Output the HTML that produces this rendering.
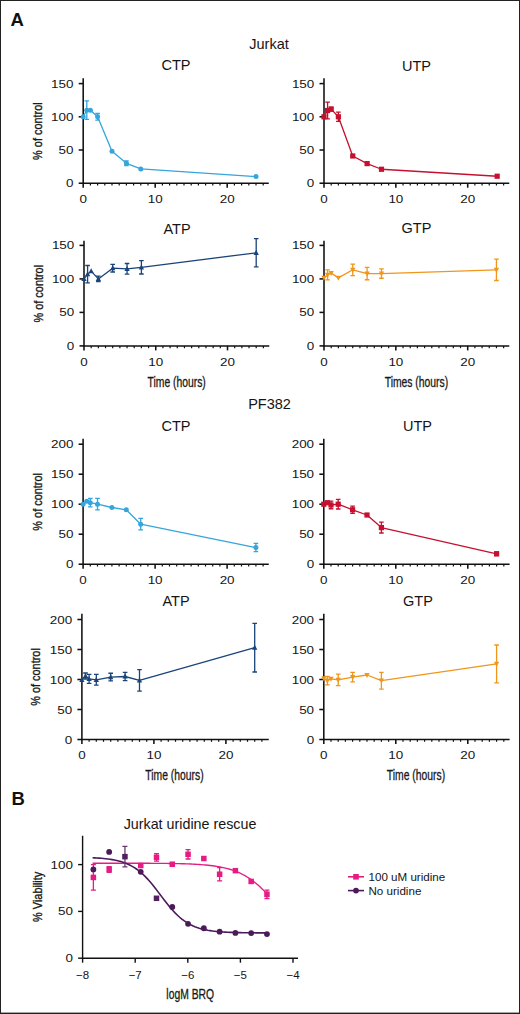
<!DOCTYPE html>
<html><head><meta charset="utf-8"><style>
html,body{margin:0;padding:0;background:#fff;}
body{width:520px;height:1014px;overflow:hidden;font-family:"Liberation Sans", sans-serif;}
svg{display:block;}
</style></head><body>
<svg width="520" height="1014" viewBox="0 0 520 1014" font-family='"Liberation Sans", sans-serif'>
<rect x="0" y="0" width="520" height="1014" fill="#fff"/>
<text x="10.50" y="26.00" font-size="18.5" text-anchor="start" font-weight="bold" fill="#111" >A</text>
<text x="269.00" y="48.80" font-size="14.5" text-anchor="middle" font-weight="normal" fill="#151515" >Jurkat</text>
<text x="269.50" y="409.00" font-size="14.5" text-anchor="middle" font-weight="normal" fill="#151515" >PF382</text>
<path d="M83.20,79.00 V183.20 H268.00" fill="none" stroke="#111" stroke-width="1.55" stroke-linecap="square"/>
<line x1="78.70" y1="183.20" x2="83.20" y2="183.20" stroke="#111" stroke-width="1.55"/>
<text transform="translate(73.50,187.20) scale(1.17,1)" x="0" y="0" font-size="11.5" text-anchor="end" fill="#151515" >0</text>
<line x1="78.70" y1="150.00" x2="83.20" y2="150.00" stroke="#111" stroke-width="1.55"/>
<text transform="translate(73.50,154.00) scale(1.17,1)" x="0" y="0" font-size="11.5" text-anchor="end" fill="#151515" >50</text>
<line x1="78.70" y1="116.80" x2="83.20" y2="116.80" stroke="#111" stroke-width="1.55"/>
<text transform="translate(73.50,120.80) scale(1.17,1)" x="0" y="0" font-size="11.5" text-anchor="end" fill="#151515" >100</text>
<line x1="78.70" y1="83.60" x2="83.20" y2="83.60" stroke="#111" stroke-width="1.55"/>
<text transform="translate(73.50,87.60) scale(1.17,1)" x="0" y="0" font-size="11.5" text-anchor="end" fill="#151515" >150</text>
<line x1="83.20" y1="183.20" x2="83.20" y2="187.70" stroke="#111" stroke-width="1.55"/>
<text transform="translate(83.20,203.00) scale(1.17,1)" x="0" y="0" font-size="11.5" text-anchor="middle" fill="#151515" >0</text>
<line x1="90.40" y1="183.20" x2="90.40" y2="185.50" stroke="#111" stroke-width="1.2"/>
<line x1="97.60" y1="183.20" x2="97.60" y2="185.50" stroke="#111" stroke-width="1.2"/>
<line x1="104.80" y1="183.20" x2="104.80" y2="185.50" stroke="#111" stroke-width="1.2"/>
<line x1="112.00" y1="183.20" x2="112.00" y2="185.50" stroke="#111" stroke-width="1.2"/>
<line x1="119.20" y1="183.20" x2="119.20" y2="185.50" stroke="#111" stroke-width="1.2"/>
<line x1="126.40" y1="183.20" x2="126.40" y2="185.50" stroke="#111" stroke-width="1.2"/>
<line x1="133.60" y1="183.20" x2="133.60" y2="185.50" stroke="#111" stroke-width="1.2"/>
<line x1="140.80" y1="183.20" x2="140.80" y2="185.50" stroke="#111" stroke-width="1.2"/>
<line x1="148.00" y1="183.20" x2="148.00" y2="185.50" stroke="#111" stroke-width="1.2"/>
<line x1="155.20" y1="183.20" x2="155.20" y2="187.70" stroke="#111" stroke-width="1.55"/>
<text transform="translate(155.20,203.00) scale(1.17,1)" x="0" y="0" font-size="11.5" text-anchor="middle" fill="#151515" >10</text>
<line x1="162.40" y1="183.20" x2="162.40" y2="185.50" stroke="#111" stroke-width="1.2"/>
<line x1="169.60" y1="183.20" x2="169.60" y2="185.50" stroke="#111" stroke-width="1.2"/>
<line x1="176.80" y1="183.20" x2="176.80" y2="185.50" stroke="#111" stroke-width="1.2"/>
<line x1="184.00" y1="183.20" x2="184.00" y2="185.50" stroke="#111" stroke-width="1.2"/>
<line x1="191.20" y1="183.20" x2="191.20" y2="185.50" stroke="#111" stroke-width="1.2"/>
<line x1="198.40" y1="183.20" x2="198.40" y2="185.50" stroke="#111" stroke-width="1.2"/>
<line x1="205.60" y1="183.20" x2="205.60" y2="185.50" stroke="#111" stroke-width="1.2"/>
<line x1="212.80" y1="183.20" x2="212.80" y2="185.50" stroke="#111" stroke-width="1.2"/>
<line x1="220.00" y1="183.20" x2="220.00" y2="185.50" stroke="#111" stroke-width="1.2"/>
<line x1="227.20" y1="183.20" x2="227.20" y2="187.70" stroke="#111" stroke-width="1.55"/>
<text transform="translate(227.20,203.00) scale(1.17,1)" x="0" y="0" font-size="11.5" text-anchor="middle" fill="#151515" >20</text>
<line x1="234.40" y1="183.20" x2="234.40" y2="185.50" stroke="#111" stroke-width="1.2"/>
<line x1="241.60" y1="183.20" x2="241.60" y2="185.50" stroke="#111" stroke-width="1.2"/>
<line x1="248.80" y1="183.20" x2="248.80" y2="185.50" stroke="#111" stroke-width="1.2"/>
<line x1="256.00" y1="183.20" x2="256.00" y2="185.50" stroke="#111" stroke-width="1.2"/>
<line x1="263.20" y1="183.20" x2="263.20" y2="185.50" stroke="#111" stroke-width="1.2"/>
<path d="M83.20,116.80 L86.80,110.16 L90.40,110.16 L97.60,116.80 L112.00,151.33 L126.40,163.28 L140.80,168.92 L256.00,176.56" fill="none" stroke="#35a5db" stroke-width="1.3" stroke-linejoin="round"/>
<circle cx="83.20" cy="116.80" r="2.5" fill="#35a5db"/>
<path d="M84.50,100.86 H89.10 M86.80,100.86 V119.46 M84.50,119.46 H89.10" fill="none" stroke="#35a5db" stroke-width="1.3"/>
<circle cx="86.80" cy="110.16" r="2.5" fill="#35a5db"/>
<circle cx="90.40" cy="110.16" r="2.5" fill="#35a5db"/>
<path d="M95.30,113.48 H99.90 M97.60,113.48 V120.12 M95.30,120.12 H99.90" fill="none" stroke="#35a5db" stroke-width="1.3"/>
<circle cx="97.60" cy="116.80" r="2.5" fill="#35a5db"/>
<circle cx="112.00" cy="151.33" r="2.5" fill="#35a5db"/>
<path d="M124.10,160.96 H128.70 M126.40,160.96 V165.60 M124.10,165.60 H128.70" fill="none" stroke="#35a5db" stroke-width="1.3"/>
<circle cx="126.40" cy="163.28" r="2.5" fill="#35a5db"/>
<circle cx="140.80" cy="168.92" r="2.5" fill="#35a5db"/>
<circle cx="256.00" cy="176.56" r="2.5" fill="#35a5db"/>
<text x="176.00" y="69.80" font-size="14.5" text-anchor="middle" font-weight="normal" fill="#151515" >CTP</text>
<text transform="translate(41.70,131.10) rotate(-90) scale(0.84,1)" x="0" y="0" font-size="13" text-anchor="middle" fill="#151515" stroke="#222" stroke-width="0.35">% of control</text>
<path d="M324.00,79.00 V183.20 H508.50" fill="none" stroke="#111" stroke-width="1.55" stroke-linecap="square"/>
<line x1="319.50" y1="183.20" x2="324.00" y2="183.20" stroke="#111" stroke-width="1.55"/>
<text transform="translate(314.30,187.20) scale(1.17,1)" x="0" y="0" font-size="11.5" text-anchor="end" fill="#151515" >0</text>
<line x1="319.50" y1="150.00" x2="324.00" y2="150.00" stroke="#111" stroke-width="1.55"/>
<text transform="translate(314.30,154.00) scale(1.17,1)" x="0" y="0" font-size="11.5" text-anchor="end" fill="#151515" >50</text>
<line x1="319.50" y1="116.80" x2="324.00" y2="116.80" stroke="#111" stroke-width="1.55"/>
<text transform="translate(314.30,120.80) scale(1.17,1)" x="0" y="0" font-size="11.5" text-anchor="end" fill="#151515" >100</text>
<line x1="319.50" y1="83.60" x2="324.00" y2="83.60" stroke="#111" stroke-width="1.55"/>
<text transform="translate(314.30,87.60) scale(1.17,1)" x="0" y="0" font-size="11.5" text-anchor="end" fill="#151515" >150</text>
<line x1="324.00" y1="183.20" x2="324.00" y2="187.70" stroke="#111" stroke-width="1.55"/>
<text transform="translate(324.00,203.00) scale(1.17,1)" x="0" y="0" font-size="11.5" text-anchor="middle" fill="#151515" >0</text>
<line x1="331.19" y1="183.20" x2="331.19" y2="185.50" stroke="#111" stroke-width="1.2"/>
<line x1="338.37" y1="183.20" x2="338.37" y2="185.50" stroke="#111" stroke-width="1.2"/>
<line x1="345.56" y1="183.20" x2="345.56" y2="185.50" stroke="#111" stroke-width="1.2"/>
<line x1="352.74" y1="183.20" x2="352.74" y2="185.50" stroke="#111" stroke-width="1.2"/>
<line x1="359.93" y1="183.20" x2="359.93" y2="185.50" stroke="#111" stroke-width="1.2"/>
<line x1="367.11" y1="183.20" x2="367.11" y2="185.50" stroke="#111" stroke-width="1.2"/>
<line x1="374.30" y1="183.20" x2="374.30" y2="185.50" stroke="#111" stroke-width="1.2"/>
<line x1="381.48" y1="183.20" x2="381.48" y2="185.50" stroke="#111" stroke-width="1.2"/>
<line x1="388.66" y1="183.20" x2="388.66" y2="185.50" stroke="#111" stroke-width="1.2"/>
<line x1="395.85" y1="183.20" x2="395.85" y2="187.70" stroke="#111" stroke-width="1.55"/>
<text transform="translate(395.85,203.00) scale(1.17,1)" x="0" y="0" font-size="11.5" text-anchor="middle" fill="#151515" >10</text>
<line x1="403.03" y1="183.20" x2="403.03" y2="185.50" stroke="#111" stroke-width="1.2"/>
<line x1="410.22" y1="183.20" x2="410.22" y2="185.50" stroke="#111" stroke-width="1.2"/>
<line x1="417.40" y1="183.20" x2="417.40" y2="185.50" stroke="#111" stroke-width="1.2"/>
<line x1="424.59" y1="183.20" x2="424.59" y2="185.50" stroke="#111" stroke-width="1.2"/>
<line x1="431.77" y1="183.20" x2="431.77" y2="185.50" stroke="#111" stroke-width="1.2"/>
<line x1="438.96" y1="183.20" x2="438.96" y2="185.50" stroke="#111" stroke-width="1.2"/>
<line x1="446.14" y1="183.20" x2="446.14" y2="185.50" stroke="#111" stroke-width="1.2"/>
<line x1="453.33" y1="183.20" x2="453.33" y2="185.50" stroke="#111" stroke-width="1.2"/>
<line x1="460.51" y1="183.20" x2="460.51" y2="185.50" stroke="#111" stroke-width="1.2"/>
<line x1="467.70" y1="183.20" x2="467.70" y2="187.70" stroke="#111" stroke-width="1.55"/>
<text transform="translate(467.70,203.00) scale(1.17,1)" x="0" y="0" font-size="11.5" text-anchor="middle" fill="#151515" >20</text>
<line x1="474.88" y1="183.20" x2="474.88" y2="185.50" stroke="#111" stroke-width="1.2"/>
<line x1="482.07" y1="183.20" x2="482.07" y2="185.50" stroke="#111" stroke-width="1.2"/>
<line x1="489.25" y1="183.20" x2="489.25" y2="185.50" stroke="#111" stroke-width="1.2"/>
<line x1="496.44" y1="183.20" x2="496.44" y2="185.50" stroke="#111" stroke-width="1.2"/>
<line x1="503.62" y1="183.20" x2="503.62" y2="185.50" stroke="#111" stroke-width="1.2"/>
<path d="M324.00,116.80 L327.59,110.49 L331.19,109.16 L338.37,116.80 L352.74,155.98 L367.11,163.61 L381.48,169.26 L497.16,176.23" fill="none" stroke="#c6102f" stroke-width="1.3" stroke-linejoin="round"/>
<rect x="321.40" y="114.20" width="5.20" height="5.20" fill="#c6102f"/>
<path d="M325.29,102.19 H329.89 M327.59,102.19 V118.79 M325.29,118.79 H329.89" fill="none" stroke="#c6102f" stroke-width="1.3"/>
<rect x="324.99" y="107.89" width="5.20" height="5.20" fill="#c6102f"/>
<path d="M328.88,107.17 H333.49 M331.19,107.17 V111.16 M328.88,111.16 H333.49" fill="none" stroke="#c6102f" stroke-width="1.3"/>
<rect x="328.58" y="106.56" width="5.20" height="5.20" fill="#c6102f"/>
<path d="M336.07,112.15 H340.67 M338.37,112.15 V121.45 M336.07,121.45 H340.67" fill="none" stroke="#c6102f" stroke-width="1.3"/>
<rect x="335.77" y="114.20" width="5.20" height="5.20" fill="#c6102f"/>
<rect x="350.14" y="153.38" width="5.20" height="5.20" fill="#c6102f"/>
<rect x="364.51" y="161.01" width="5.20" height="5.20" fill="#c6102f"/>
<rect x="378.88" y="166.66" width="5.20" height="5.20" fill="#c6102f"/>
<rect x="494.56" y="173.63" width="5.20" height="5.20" fill="#c6102f"/>
<text x="416.50" y="70.50" font-size="14.5" text-anchor="middle" font-weight="normal" fill="#151515" >UTP</text>
<path d="M84.00,241.50 V345.90 H268.50" fill="none" stroke="#111" stroke-width="1.55" stroke-linecap="square"/>
<line x1="79.50" y1="345.90" x2="84.00" y2="345.90" stroke="#111" stroke-width="1.55"/>
<text transform="translate(74.30,349.90) scale(1.17,1)" x="0" y="0" font-size="11.5" text-anchor="end" fill="#151515" >0</text>
<line x1="79.50" y1="312.40" x2="84.00" y2="312.40" stroke="#111" stroke-width="1.55"/>
<text transform="translate(74.30,316.40) scale(1.17,1)" x="0" y="0" font-size="11.5" text-anchor="end" fill="#151515" >50</text>
<line x1="79.50" y1="278.90" x2="84.00" y2="278.90" stroke="#111" stroke-width="1.55"/>
<text transform="translate(74.30,282.90) scale(1.17,1)" x="0" y="0" font-size="11.5" text-anchor="end" fill="#151515" >100</text>
<line x1="79.50" y1="245.40" x2="84.00" y2="245.40" stroke="#111" stroke-width="1.55"/>
<text transform="translate(74.30,249.40) scale(1.17,1)" x="0" y="0" font-size="11.5" text-anchor="end" fill="#151515" >150</text>
<line x1="84.00" y1="345.90" x2="84.00" y2="350.40" stroke="#111" stroke-width="1.55"/>
<text transform="translate(84.00,365.70) scale(1.17,1)" x="0" y="0" font-size="11.5" text-anchor="middle" fill="#151515" >0</text>
<line x1="91.17" y1="345.90" x2="91.17" y2="348.20" stroke="#111" stroke-width="1.2"/>
<line x1="98.35" y1="345.90" x2="98.35" y2="348.20" stroke="#111" stroke-width="1.2"/>
<line x1="105.53" y1="345.90" x2="105.53" y2="348.20" stroke="#111" stroke-width="1.2"/>
<line x1="112.70" y1="345.90" x2="112.70" y2="348.20" stroke="#111" stroke-width="1.2"/>
<line x1="119.88" y1="345.90" x2="119.88" y2="348.20" stroke="#111" stroke-width="1.2"/>
<line x1="127.05" y1="345.90" x2="127.05" y2="348.20" stroke="#111" stroke-width="1.2"/>
<line x1="134.22" y1="345.90" x2="134.22" y2="348.20" stroke="#111" stroke-width="1.2"/>
<line x1="141.40" y1="345.90" x2="141.40" y2="348.20" stroke="#111" stroke-width="1.2"/>
<line x1="148.57" y1="345.90" x2="148.57" y2="348.20" stroke="#111" stroke-width="1.2"/>
<line x1="155.75" y1="345.90" x2="155.75" y2="350.40" stroke="#111" stroke-width="1.55"/>
<text transform="translate(155.75,365.70) scale(1.17,1)" x="0" y="0" font-size="11.5" text-anchor="middle" fill="#151515" >10</text>
<line x1="162.93" y1="345.90" x2="162.93" y2="348.20" stroke="#111" stroke-width="1.2"/>
<line x1="170.10" y1="345.90" x2="170.10" y2="348.20" stroke="#111" stroke-width="1.2"/>
<line x1="177.27" y1="345.90" x2="177.27" y2="348.20" stroke="#111" stroke-width="1.2"/>
<line x1="184.45" y1="345.90" x2="184.45" y2="348.20" stroke="#111" stroke-width="1.2"/>
<line x1="191.62" y1="345.90" x2="191.62" y2="348.20" stroke="#111" stroke-width="1.2"/>
<line x1="198.80" y1="345.90" x2="198.80" y2="348.20" stroke="#111" stroke-width="1.2"/>
<line x1="205.97" y1="345.90" x2="205.97" y2="348.20" stroke="#111" stroke-width="1.2"/>
<line x1="213.15" y1="345.90" x2="213.15" y2="348.20" stroke="#111" stroke-width="1.2"/>
<line x1="220.32" y1="345.90" x2="220.32" y2="348.20" stroke="#111" stroke-width="1.2"/>
<line x1="227.50" y1="345.90" x2="227.50" y2="350.40" stroke="#111" stroke-width="1.55"/>
<text transform="translate(227.50,365.70) scale(1.17,1)" x="0" y="0" font-size="11.5" text-anchor="middle" fill="#151515" >20</text>
<line x1="234.67" y1="345.90" x2="234.67" y2="348.20" stroke="#111" stroke-width="1.2"/>
<line x1="241.85" y1="345.90" x2="241.85" y2="348.20" stroke="#111" stroke-width="1.2"/>
<line x1="249.03" y1="345.90" x2="249.03" y2="348.20" stroke="#111" stroke-width="1.2"/>
<line x1="256.20" y1="345.90" x2="256.20" y2="348.20" stroke="#111" stroke-width="1.2"/>
<line x1="263.38" y1="345.90" x2="263.38" y2="348.20" stroke="#111" stroke-width="1.2"/>
<path d="M84.00,278.90 L87.59,274.21 L91.17,271.13 L98.35,278.90 L112.70,268.18 L127.05,268.85 L141.40,267.31 L256.20,252.77" fill="none" stroke="#1a4479" stroke-width="1.3" stroke-linejoin="round"/>
<path d="M84.00,275.99 L86.64,281.02 L81.36,281.02 Z" fill="#1a4479"/>
<path d="M85.29,265.50 H89.89 M87.59,265.50 V282.92 M85.29,282.92 H89.89" fill="none" stroke="#1a4479" stroke-width="1.3"/>
<path d="M87.59,271.30 L90.23,276.33 L84.94,276.33 Z" fill="#1a4479"/>
<path d="M91.17,268.22 L93.82,273.24 L88.53,273.24 Z" fill="#1a4479"/>
<path d="M96.05,276.22 H100.65 M98.35,276.22 V281.58 M96.05,281.58 H100.65" fill="none" stroke="#1a4479" stroke-width="1.3"/>
<path d="M98.35,275.99 L100.99,281.02 L95.70,281.02 Z" fill="#1a4479"/>
<path d="M110.40,264.36 H115.00 M112.70,264.36 V272.00 M110.40,272.00 H115.00" fill="none" stroke="#1a4479" stroke-width="1.3"/>
<path d="M112.70,265.27 L115.34,270.30 L110.06,270.30 Z" fill="#1a4479"/>
<path d="M124.75,263.49 H129.35 M127.05,263.49 V274.21 M124.75,274.21 H129.35" fill="none" stroke="#1a4479" stroke-width="1.3"/>
<path d="M127.05,265.94 L129.69,270.97 L124.41,270.97 Z" fill="#1a4479"/>
<path d="M139.10,260.61 H143.70 M141.40,260.61 V274.01 M139.10,274.01 H143.70" fill="none" stroke="#1a4479" stroke-width="1.3"/>
<path d="M141.40,264.40 L144.05,269.42 L138.75,269.42 Z" fill="#1a4479"/>
<path d="M253.90,238.70 H258.50 M256.20,238.70 V266.84 M253.90,266.84 H258.50" fill="none" stroke="#1a4479" stroke-width="1.3"/>
<path d="M256.20,249.86 L258.84,254.89 L253.55,254.89 Z" fill="#1a4479"/>
<text x="177.00" y="233.50" font-size="14.5" text-anchor="middle" font-weight="normal" fill="#151515" >ATP</text>
<text transform="translate(176.70,387.00) scale(0.74,1)" x="0" y="0" font-size="14" text-anchor="middle" fill="#151515" stroke="#222" stroke-width="0.3">Time (hours)</text>
<text transform="translate(42.50,293.70) rotate(-90) scale(0.84,1)" x="0" y="0" font-size="13" text-anchor="middle" fill="#151515" stroke="#222" stroke-width="0.35">% of control</text>
<path d="M324.00,241.50 V345.90 H508.50" fill="none" stroke="#111" stroke-width="1.55" stroke-linecap="square"/>
<line x1="319.50" y1="345.90" x2="324.00" y2="345.90" stroke="#111" stroke-width="1.55"/>
<text transform="translate(314.30,349.90) scale(1.17,1)" x="0" y="0" font-size="11.5" text-anchor="end" fill="#151515" >0</text>
<line x1="319.50" y1="312.40" x2="324.00" y2="312.40" stroke="#111" stroke-width="1.55"/>
<text transform="translate(314.30,316.40) scale(1.17,1)" x="0" y="0" font-size="11.5" text-anchor="end" fill="#151515" >50</text>
<line x1="319.50" y1="278.90" x2="324.00" y2="278.90" stroke="#111" stroke-width="1.55"/>
<text transform="translate(314.30,282.90) scale(1.17,1)" x="0" y="0" font-size="11.5" text-anchor="end" fill="#151515" >100</text>
<line x1="319.50" y1="245.40" x2="324.00" y2="245.40" stroke="#111" stroke-width="1.55"/>
<text transform="translate(314.30,249.40) scale(1.17,1)" x="0" y="0" font-size="11.5" text-anchor="end" fill="#151515" >150</text>
<line x1="324.00" y1="345.90" x2="324.00" y2="350.40" stroke="#111" stroke-width="1.55"/>
<text transform="translate(324.00,365.70) scale(1.17,1)" x="0" y="0" font-size="11.5" text-anchor="middle" fill="#151515" >0</text>
<line x1="331.19" y1="345.90" x2="331.19" y2="348.20" stroke="#111" stroke-width="1.2"/>
<line x1="338.37" y1="345.90" x2="338.37" y2="348.20" stroke="#111" stroke-width="1.2"/>
<line x1="345.56" y1="345.90" x2="345.56" y2="348.20" stroke="#111" stroke-width="1.2"/>
<line x1="352.74" y1="345.90" x2="352.74" y2="348.20" stroke="#111" stroke-width="1.2"/>
<line x1="359.93" y1="345.90" x2="359.93" y2="348.20" stroke="#111" stroke-width="1.2"/>
<line x1="367.11" y1="345.90" x2="367.11" y2="348.20" stroke="#111" stroke-width="1.2"/>
<line x1="374.30" y1="345.90" x2="374.30" y2="348.20" stroke="#111" stroke-width="1.2"/>
<line x1="381.48" y1="345.90" x2="381.48" y2="348.20" stroke="#111" stroke-width="1.2"/>
<line x1="388.66" y1="345.90" x2="388.66" y2="348.20" stroke="#111" stroke-width="1.2"/>
<line x1="395.85" y1="345.90" x2="395.85" y2="350.40" stroke="#111" stroke-width="1.55"/>
<text transform="translate(395.85,365.70) scale(1.17,1)" x="0" y="0" font-size="11.5" text-anchor="middle" fill="#151515" >10</text>
<line x1="403.03" y1="345.90" x2="403.03" y2="348.20" stroke="#111" stroke-width="1.2"/>
<line x1="410.22" y1="345.90" x2="410.22" y2="348.20" stroke="#111" stroke-width="1.2"/>
<line x1="417.40" y1="345.90" x2="417.40" y2="348.20" stroke="#111" stroke-width="1.2"/>
<line x1="424.59" y1="345.90" x2="424.59" y2="348.20" stroke="#111" stroke-width="1.2"/>
<line x1="431.77" y1="345.90" x2="431.77" y2="348.20" stroke="#111" stroke-width="1.2"/>
<line x1="438.96" y1="345.90" x2="438.96" y2="348.20" stroke="#111" stroke-width="1.2"/>
<line x1="446.14" y1="345.90" x2="446.14" y2="348.20" stroke="#111" stroke-width="1.2"/>
<line x1="453.33" y1="345.90" x2="453.33" y2="348.20" stroke="#111" stroke-width="1.2"/>
<line x1="460.51" y1="345.90" x2="460.51" y2="348.20" stroke="#111" stroke-width="1.2"/>
<line x1="467.70" y1="345.90" x2="467.70" y2="350.40" stroke="#111" stroke-width="1.55"/>
<text transform="translate(467.70,365.70) scale(1.17,1)" x="0" y="0" font-size="11.5" text-anchor="middle" fill="#151515" >20</text>
<line x1="474.88" y1="345.90" x2="474.88" y2="348.20" stroke="#111" stroke-width="1.2"/>
<line x1="482.07" y1="345.90" x2="482.07" y2="348.20" stroke="#111" stroke-width="1.2"/>
<line x1="489.25" y1="345.90" x2="489.25" y2="348.20" stroke="#111" stroke-width="1.2"/>
<line x1="496.44" y1="345.90" x2="496.44" y2="348.20" stroke="#111" stroke-width="1.2"/>
<line x1="503.62" y1="345.90" x2="503.62" y2="348.20" stroke="#111" stroke-width="1.2"/>
<path d="M324.00,277.89 L327.59,274.88 L331.19,273.14 L338.37,277.89 L352.74,269.79 L367.11,273.54 L381.48,273.54 L496.44,269.79" fill="none" stroke="#f0961b" stroke-width="1.3" stroke-linejoin="round"/>
<path d="M324.00,280.80 L326.64,275.78 L321.36,275.78 Z" fill="#f0961b"/>
<path d="M325.29,269.86 H329.89 M327.59,269.86 V279.90 M325.29,279.90 H329.89" fill="none" stroke="#f0961b" stroke-width="1.3"/>
<path d="M327.59,277.79 L330.24,272.76 L324.95,272.76 Z" fill="#f0961b"/>
<path d="M331.19,276.05 L333.83,271.02 L328.54,271.02 Z" fill="#f0961b"/>
<path d="M338.37,280.80 L341.01,275.78 L335.73,275.78 Z" fill="#f0961b"/>
<path d="M350.44,264.03 H355.04 M352.74,264.03 V275.55 M350.44,275.55 H355.04" fill="none" stroke="#f0961b" stroke-width="1.3"/>
<path d="M352.74,272.70 L355.38,267.67 L350.10,267.67 Z" fill="#f0961b"/>
<path d="M364.81,267.31 H369.41 M367.11,267.31 V279.77 M364.81,279.77 H369.41" fill="none" stroke="#f0961b" stroke-width="1.3"/>
<path d="M367.11,276.45 L369.75,271.42 L364.47,271.42 Z" fill="#f0961b"/>
<path d="M379.18,268.85 H383.78 M381.48,268.85 V278.23 M379.18,278.23 H383.78" fill="none" stroke="#f0961b" stroke-width="1.3"/>
<path d="M381.48,276.45 L384.12,271.42 L378.84,271.42 Z" fill="#f0961b"/>
<path d="M494.14,259.07 H498.74 M496.44,259.07 V280.51 M494.14,280.51 H498.74" fill="none" stroke="#f0961b" stroke-width="1.3"/>
<path d="M496.44,272.70 L499.08,267.67 L493.80,267.67 Z" fill="#f0961b"/>
<text x="416.50" y="232.50" font-size="14.5" text-anchor="middle" font-weight="normal" fill="#151515" >GTP</text>
<text transform="translate(416.40,387.00) scale(0.74,1)" x="0" y="0" font-size="14" text-anchor="middle" fill="#151515" stroke="#222" stroke-width="0.3">Times (hours)</text>
<path d="M83.10,439.50 V564.20 H268.00" fill="none" stroke="#111" stroke-width="1.55" stroke-linecap="square"/>
<line x1="78.60" y1="564.20" x2="83.10" y2="564.20" stroke="#111" stroke-width="1.55"/>
<text transform="translate(73.40,568.20) scale(1.17,1)" x="0" y="0" font-size="11.5" text-anchor="end" fill="#151515" >0</text>
<line x1="78.60" y1="534.20" x2="83.10" y2="534.20" stroke="#111" stroke-width="1.55"/>
<text transform="translate(73.40,538.20) scale(1.17,1)" x="0" y="0" font-size="11.5" text-anchor="end" fill="#151515" >50</text>
<line x1="78.60" y1="504.20" x2="83.10" y2="504.20" stroke="#111" stroke-width="1.55"/>
<text transform="translate(73.40,508.20) scale(1.17,1)" x="0" y="0" font-size="11.5" text-anchor="end" fill="#151515" >100</text>
<line x1="78.60" y1="474.20" x2="83.10" y2="474.20" stroke="#111" stroke-width="1.55"/>
<text transform="translate(73.40,478.20) scale(1.17,1)" x="0" y="0" font-size="11.5" text-anchor="end" fill="#151515" >150</text>
<line x1="78.60" y1="444.20" x2="83.10" y2="444.20" stroke="#111" stroke-width="1.55"/>
<text transform="translate(73.40,448.20) scale(1.17,1)" x="0" y="0" font-size="11.5" text-anchor="end" fill="#151515" >200</text>
<line x1="83.10" y1="564.20" x2="83.10" y2="568.70" stroke="#111" stroke-width="1.55"/>
<text transform="translate(83.10,584.00) scale(1.17,1)" x="0" y="0" font-size="11.5" text-anchor="middle" fill="#151515" >0</text>
<line x1="90.30" y1="564.20" x2="90.30" y2="566.50" stroke="#111" stroke-width="1.2"/>
<line x1="97.50" y1="564.20" x2="97.50" y2="566.50" stroke="#111" stroke-width="1.2"/>
<line x1="104.70" y1="564.20" x2="104.70" y2="566.50" stroke="#111" stroke-width="1.2"/>
<line x1="111.90" y1="564.20" x2="111.90" y2="566.50" stroke="#111" stroke-width="1.2"/>
<line x1="119.10" y1="564.20" x2="119.10" y2="566.50" stroke="#111" stroke-width="1.2"/>
<line x1="126.30" y1="564.20" x2="126.30" y2="566.50" stroke="#111" stroke-width="1.2"/>
<line x1="133.50" y1="564.20" x2="133.50" y2="566.50" stroke="#111" stroke-width="1.2"/>
<line x1="140.70" y1="564.20" x2="140.70" y2="566.50" stroke="#111" stroke-width="1.2"/>
<line x1="147.90" y1="564.20" x2="147.90" y2="566.50" stroke="#111" stroke-width="1.2"/>
<line x1="155.10" y1="564.20" x2="155.10" y2="568.70" stroke="#111" stroke-width="1.55"/>
<text transform="translate(155.10,584.00) scale(1.17,1)" x="0" y="0" font-size="11.5" text-anchor="middle" fill="#151515" >10</text>
<line x1="162.30" y1="564.20" x2="162.30" y2="566.50" stroke="#111" stroke-width="1.2"/>
<line x1="169.50" y1="564.20" x2="169.50" y2="566.50" stroke="#111" stroke-width="1.2"/>
<line x1="176.70" y1="564.20" x2="176.70" y2="566.50" stroke="#111" stroke-width="1.2"/>
<line x1="183.90" y1="564.20" x2="183.90" y2="566.50" stroke="#111" stroke-width="1.2"/>
<line x1="191.10" y1="564.20" x2="191.10" y2="566.50" stroke="#111" stroke-width="1.2"/>
<line x1="198.30" y1="564.20" x2="198.30" y2="566.50" stroke="#111" stroke-width="1.2"/>
<line x1="205.50" y1="564.20" x2="205.50" y2="566.50" stroke="#111" stroke-width="1.2"/>
<line x1="212.70" y1="564.20" x2="212.70" y2="566.50" stroke="#111" stroke-width="1.2"/>
<line x1="219.90" y1="564.20" x2="219.90" y2="566.50" stroke="#111" stroke-width="1.2"/>
<line x1="227.10" y1="564.20" x2="227.10" y2="568.70" stroke="#111" stroke-width="1.55"/>
<text transform="translate(227.10,584.00) scale(1.17,1)" x="0" y="0" font-size="11.5" text-anchor="middle" fill="#151515" >20</text>
<line x1="234.30" y1="564.20" x2="234.30" y2="566.50" stroke="#111" stroke-width="1.2"/>
<line x1="241.50" y1="564.20" x2="241.50" y2="566.50" stroke="#111" stroke-width="1.2"/>
<line x1="248.70" y1="564.20" x2="248.70" y2="566.50" stroke="#111" stroke-width="1.2"/>
<line x1="255.90" y1="564.20" x2="255.90" y2="566.50" stroke="#111" stroke-width="1.2"/>
<line x1="263.10" y1="564.20" x2="263.10" y2="566.50" stroke="#111" stroke-width="1.2"/>
<path d="M83.10,504.20 L86.70,501.20 L90.30,502.70 L97.50,504.20 L111.90,507.50 L126.30,509.78 L140.70,524.18 L255.90,547.52" fill="none" stroke="#35a5db" stroke-width="1.3" stroke-linejoin="round"/>
<circle cx="83.10" cy="504.20" r="2.5" fill="#35a5db"/>
<circle cx="86.70" cy="501.20" r="2.5" fill="#35a5db"/>
<path d="M88.00,498.50 H92.60 M90.30,498.50 V506.90 M88.00,506.90 H92.60" fill="none" stroke="#35a5db" stroke-width="1.3"/>
<circle cx="90.30" cy="502.70" r="2.5" fill="#35a5db"/>
<path d="M95.20,498.44 H99.80 M97.50,498.44 V509.96 M95.20,509.96 H99.80" fill="none" stroke="#35a5db" stroke-width="1.3"/>
<circle cx="97.50" cy="504.20" r="2.5" fill="#35a5db"/>
<circle cx="111.90" cy="507.50" r="2.5" fill="#35a5db"/>
<circle cx="126.30" cy="509.78" r="2.5" fill="#35a5db"/>
<path d="M138.40,518.42 H143.00 M140.70,518.42 V529.94 M138.40,529.94 H143.00" fill="none" stroke="#35a5db" stroke-width="1.3"/>
<circle cx="140.70" cy="524.18" r="2.5" fill="#35a5db"/>
<path d="M253.60,543.32 H258.20 M255.90,543.32 V551.72 M253.60,551.72 H258.20" fill="none" stroke="#35a5db" stroke-width="1.3"/>
<circle cx="255.90" cy="547.52" r="2.5" fill="#35a5db"/>
<text x="176.00" y="431.00" font-size="14.5" text-anchor="middle" font-weight="normal" fill="#151515" >CTP</text>
<text transform="translate(41.60,501.85) rotate(-90) scale(0.84,1)" x="0" y="0" font-size="13" text-anchor="middle" fill="#151515" stroke="#222" stroke-width="0.35">% of control</text>
<path d="M323.80,439.50 V564.20 H508.80" fill="none" stroke="#111" stroke-width="1.55" stroke-linecap="square"/>
<line x1="319.30" y1="564.20" x2="323.80" y2="564.20" stroke="#111" stroke-width="1.55"/>
<text transform="translate(314.10,568.20) scale(1.17,1)" x="0" y="0" font-size="11.5" text-anchor="end" fill="#151515" >0</text>
<line x1="319.30" y1="534.20" x2="323.80" y2="534.20" stroke="#111" stroke-width="1.55"/>
<text transform="translate(314.10,538.20) scale(1.17,1)" x="0" y="0" font-size="11.5" text-anchor="end" fill="#151515" >50</text>
<line x1="319.30" y1="504.20" x2="323.80" y2="504.20" stroke="#111" stroke-width="1.55"/>
<text transform="translate(314.10,508.20) scale(1.17,1)" x="0" y="0" font-size="11.5" text-anchor="end" fill="#151515" >100</text>
<line x1="319.30" y1="474.20" x2="323.80" y2="474.20" stroke="#111" stroke-width="1.55"/>
<text transform="translate(314.10,478.20) scale(1.17,1)" x="0" y="0" font-size="11.5" text-anchor="end" fill="#151515" >150</text>
<line x1="319.30" y1="444.20" x2="323.80" y2="444.20" stroke="#111" stroke-width="1.55"/>
<text transform="translate(314.10,448.20) scale(1.17,1)" x="0" y="0" font-size="11.5" text-anchor="end" fill="#151515" >200</text>
<line x1="323.80" y1="564.20" x2="323.80" y2="568.70" stroke="#111" stroke-width="1.55"/>
<text transform="translate(323.80,584.00) scale(1.17,1)" x="0" y="0" font-size="11.5" text-anchor="middle" fill="#151515" >0</text>
<line x1="331.00" y1="564.20" x2="331.00" y2="566.50" stroke="#111" stroke-width="1.2"/>
<line x1="338.20" y1="564.20" x2="338.20" y2="566.50" stroke="#111" stroke-width="1.2"/>
<line x1="345.40" y1="564.20" x2="345.40" y2="566.50" stroke="#111" stroke-width="1.2"/>
<line x1="352.60" y1="564.20" x2="352.60" y2="566.50" stroke="#111" stroke-width="1.2"/>
<line x1="359.80" y1="564.20" x2="359.80" y2="566.50" stroke="#111" stroke-width="1.2"/>
<line x1="367.00" y1="564.20" x2="367.00" y2="566.50" stroke="#111" stroke-width="1.2"/>
<line x1="374.20" y1="564.20" x2="374.20" y2="566.50" stroke="#111" stroke-width="1.2"/>
<line x1="381.40" y1="564.20" x2="381.40" y2="566.50" stroke="#111" stroke-width="1.2"/>
<line x1="388.60" y1="564.20" x2="388.60" y2="566.50" stroke="#111" stroke-width="1.2"/>
<line x1="395.80" y1="564.20" x2="395.80" y2="568.70" stroke="#111" stroke-width="1.55"/>
<text transform="translate(395.80,584.00) scale(1.17,1)" x="0" y="0" font-size="11.5" text-anchor="middle" fill="#151515" >10</text>
<line x1="403.00" y1="564.20" x2="403.00" y2="566.50" stroke="#111" stroke-width="1.2"/>
<line x1="410.20" y1="564.20" x2="410.20" y2="566.50" stroke="#111" stroke-width="1.2"/>
<line x1="417.40" y1="564.20" x2="417.40" y2="566.50" stroke="#111" stroke-width="1.2"/>
<line x1="424.60" y1="564.20" x2="424.60" y2="566.50" stroke="#111" stroke-width="1.2"/>
<line x1="431.80" y1="564.20" x2="431.80" y2="566.50" stroke="#111" stroke-width="1.2"/>
<line x1="439.00" y1="564.20" x2="439.00" y2="566.50" stroke="#111" stroke-width="1.2"/>
<line x1="446.20" y1="564.20" x2="446.20" y2="566.50" stroke="#111" stroke-width="1.2"/>
<line x1="453.40" y1="564.20" x2="453.40" y2="566.50" stroke="#111" stroke-width="1.2"/>
<line x1="460.60" y1="564.20" x2="460.60" y2="566.50" stroke="#111" stroke-width="1.2"/>
<line x1="467.80" y1="564.20" x2="467.80" y2="568.70" stroke="#111" stroke-width="1.55"/>
<text transform="translate(467.80,584.00) scale(1.17,1)" x="0" y="0" font-size="11.5" text-anchor="middle" fill="#151515" >20</text>
<line x1="475.00" y1="564.20" x2="475.00" y2="566.50" stroke="#111" stroke-width="1.2"/>
<line x1="482.20" y1="564.20" x2="482.20" y2="566.50" stroke="#111" stroke-width="1.2"/>
<line x1="489.40" y1="564.20" x2="489.40" y2="566.50" stroke="#111" stroke-width="1.2"/>
<line x1="496.60" y1="564.20" x2="496.60" y2="566.50" stroke="#111" stroke-width="1.2"/>
<line x1="503.80" y1="564.20" x2="503.80" y2="566.50" stroke="#111" stroke-width="1.2"/>
<path d="M323.80,504.20 L327.40,502.70 L331.00,504.98 L338.20,504.20 L352.60,509.78 L367.00,515.00 L381.40,527.60 L496.60,553.82" fill="none" stroke="#c6102f" stroke-width="1.3" stroke-linejoin="round"/>
<rect x="321.20" y="501.60" width="5.20" height="5.20" fill="#c6102f"/>
<rect x="324.80" y="500.10" width="5.20" height="5.20" fill="#c6102f"/>
<path d="M328.70,501.20 H333.30 M331.00,501.20 V508.76 M328.70,508.76 H333.30" fill="none" stroke="#c6102f" stroke-width="1.3"/>
<rect x="328.40" y="502.38" width="5.20" height="5.20" fill="#c6102f"/>
<path d="M335.90,499.40 H340.50 M338.20,499.40 V509.00 M335.90,509.00 H340.50" fill="none" stroke="#c6102f" stroke-width="1.3"/>
<rect x="335.60" y="501.60" width="5.20" height="5.20" fill="#c6102f"/>
<path d="M350.30,506.18 H354.90 M352.60,506.18 V513.38 M350.30,513.38 H354.90" fill="none" stroke="#c6102f" stroke-width="1.3"/>
<rect x="350.00" y="507.18" width="5.20" height="5.20" fill="#c6102f"/>
<rect x="364.40" y="512.40" width="5.20" height="5.20" fill="#c6102f"/>
<path d="M379.10,522.20 H383.70 M381.40,522.20 V533.00 M379.10,533.00 H383.70" fill="none" stroke="#c6102f" stroke-width="1.3"/>
<rect x="378.80" y="525.00" width="5.20" height="5.20" fill="#c6102f"/>
<path d="M494.30,552.02 H498.90 M496.60,552.02 V555.62 M494.30,555.62 H498.90" fill="none" stroke="#c6102f" stroke-width="1.3"/>
<rect x="494.00" y="551.22" width="5.20" height="5.20" fill="#c6102f"/>
<text x="417.50" y="430.60" font-size="14.5" text-anchor="middle" font-weight="normal" fill="#151515" >UTP</text>
<path d="M81.90,614.50 V739.50 H268.00" fill="none" stroke="#111" stroke-width="1.55" stroke-linecap="square"/>
<line x1="77.40" y1="739.50" x2="81.90" y2="739.50" stroke="#111" stroke-width="1.55"/>
<text transform="translate(72.20,743.50) scale(1.17,1)" x="0" y="0" font-size="11.5" text-anchor="end" fill="#151515" >0</text>
<line x1="77.40" y1="709.50" x2="81.90" y2="709.50" stroke="#111" stroke-width="1.55"/>
<text transform="translate(72.20,713.50) scale(1.17,1)" x="0" y="0" font-size="11.5" text-anchor="end" fill="#151515" >50</text>
<line x1="77.40" y1="679.50" x2="81.90" y2="679.50" stroke="#111" stroke-width="1.55"/>
<text transform="translate(72.20,683.50) scale(1.17,1)" x="0" y="0" font-size="11.5" text-anchor="end" fill="#151515" >100</text>
<line x1="77.40" y1="649.50" x2="81.90" y2="649.50" stroke="#111" stroke-width="1.55"/>
<text transform="translate(72.20,653.50) scale(1.17,1)" x="0" y="0" font-size="11.5" text-anchor="end" fill="#151515" >150</text>
<line x1="77.40" y1="619.50" x2="81.90" y2="619.50" stroke="#111" stroke-width="1.55"/>
<text transform="translate(72.20,623.50) scale(1.17,1)" x="0" y="0" font-size="11.5" text-anchor="end" fill="#151515" >200</text>
<line x1="81.90" y1="739.50" x2="81.90" y2="744.00" stroke="#111" stroke-width="1.55"/>
<text transform="translate(81.90,759.30) scale(1.17,1)" x="0" y="0" font-size="11.5" text-anchor="middle" fill="#151515" >0</text>
<line x1="89.10" y1="739.50" x2="89.10" y2="741.80" stroke="#111" stroke-width="1.2"/>
<line x1="96.30" y1="739.50" x2="96.30" y2="741.80" stroke="#111" stroke-width="1.2"/>
<line x1="103.50" y1="739.50" x2="103.50" y2="741.80" stroke="#111" stroke-width="1.2"/>
<line x1="110.70" y1="739.50" x2="110.70" y2="741.80" stroke="#111" stroke-width="1.2"/>
<line x1="117.90" y1="739.50" x2="117.90" y2="741.80" stroke="#111" stroke-width="1.2"/>
<line x1="125.10" y1="739.50" x2="125.10" y2="741.80" stroke="#111" stroke-width="1.2"/>
<line x1="132.30" y1="739.50" x2="132.30" y2="741.80" stroke="#111" stroke-width="1.2"/>
<line x1="139.50" y1="739.50" x2="139.50" y2="741.80" stroke="#111" stroke-width="1.2"/>
<line x1="146.70" y1="739.50" x2="146.70" y2="741.80" stroke="#111" stroke-width="1.2"/>
<line x1="153.90" y1="739.50" x2="153.90" y2="744.00" stroke="#111" stroke-width="1.55"/>
<text transform="translate(153.90,759.30) scale(1.17,1)" x="0" y="0" font-size="11.5" text-anchor="middle" fill="#151515" >10</text>
<line x1="161.10" y1="739.50" x2="161.10" y2="741.80" stroke="#111" stroke-width="1.2"/>
<line x1="168.30" y1="739.50" x2="168.30" y2="741.80" stroke="#111" stroke-width="1.2"/>
<line x1="175.50" y1="739.50" x2="175.50" y2="741.80" stroke="#111" stroke-width="1.2"/>
<line x1="182.70" y1="739.50" x2="182.70" y2="741.80" stroke="#111" stroke-width="1.2"/>
<line x1="189.90" y1="739.50" x2="189.90" y2="741.80" stroke="#111" stroke-width="1.2"/>
<line x1="197.10" y1="739.50" x2="197.10" y2="741.80" stroke="#111" stroke-width="1.2"/>
<line x1="204.30" y1="739.50" x2="204.30" y2="741.80" stroke="#111" stroke-width="1.2"/>
<line x1="211.50" y1="739.50" x2="211.50" y2="741.80" stroke="#111" stroke-width="1.2"/>
<line x1="218.70" y1="739.50" x2="218.70" y2="741.80" stroke="#111" stroke-width="1.2"/>
<line x1="225.90" y1="739.50" x2="225.90" y2="744.00" stroke="#111" stroke-width="1.55"/>
<text transform="translate(225.90,759.30) scale(1.17,1)" x="0" y="0" font-size="11.5" text-anchor="middle" fill="#151515" >20</text>
<line x1="233.10" y1="739.50" x2="233.10" y2="741.80" stroke="#111" stroke-width="1.2"/>
<line x1="240.30" y1="739.50" x2="240.30" y2="741.80" stroke="#111" stroke-width="1.2"/>
<line x1="247.50" y1="739.50" x2="247.50" y2="741.80" stroke="#111" stroke-width="1.2"/>
<line x1="254.70" y1="739.50" x2="254.70" y2="741.80" stroke="#111" stroke-width="1.2"/>
<line x1="261.90" y1="739.50" x2="261.90" y2="741.80" stroke="#111" stroke-width="1.2"/>
<path d="M81.90,679.80 L85.50,676.02 L89.10,678.90 L96.30,679.80 L110.70,677.10 L125.10,676.50 L139.50,680.40 L254.70,647.70" fill="none" stroke="#1a4479" stroke-width="1.3" stroke-linejoin="round"/>
<path d="M81.90,676.89 L84.55,681.92 L79.26,681.92 Z" fill="#1a4479"/>
<path d="M83.20,673.02 H87.80 M85.50,673.02 V679.02 M83.20,679.02 H87.80" fill="none" stroke="#1a4479" stroke-width="1.3"/>
<path d="M85.50,673.11 L88.14,678.14 L82.86,678.14 Z" fill="#1a4479"/>
<path d="M86.80,674.40 H91.40 M89.10,674.40 V683.40 M86.80,683.40 H91.40" fill="none" stroke="#1a4479" stroke-width="1.3"/>
<path d="M89.10,675.99 L91.75,681.02 L86.46,681.02 Z" fill="#1a4479"/>
<path d="M94.00,674.40 H98.60 M96.30,674.40 V685.20 M94.00,685.20 H98.60" fill="none" stroke="#1a4479" stroke-width="1.3"/>
<path d="M96.30,676.89 L98.95,681.92 L93.66,681.92 Z" fill="#1a4479"/>
<path d="M108.40,673.26 H113.00 M110.70,673.26 V680.94 M108.40,680.94 H113.00" fill="none" stroke="#1a4479" stroke-width="1.3"/>
<path d="M110.70,674.19 L113.34,679.22 L108.06,679.22 Z" fill="#1a4479"/>
<path d="M122.80,672.30 H127.40 M125.10,672.30 V680.70 M122.80,680.70 H127.40" fill="none" stroke="#1a4479" stroke-width="1.3"/>
<path d="M125.10,673.59 L127.75,678.62 L122.46,678.62 Z" fill="#1a4479"/>
<path d="M137.20,669.60 H141.80 M139.50,669.60 V691.20 M137.20,691.20 H141.80" fill="none" stroke="#1a4479" stroke-width="1.3"/>
<path d="M139.50,677.49 L142.15,682.52 L136.85,682.52 Z" fill="#1a4479"/>
<path d="M252.40,623.40 H257.00 M254.70,623.40 V672.00 M252.40,672.00 H257.00" fill="none" stroke="#1a4479" stroke-width="1.3"/>
<path d="M254.70,644.79 L257.35,649.82 L252.06,649.82 Z" fill="#1a4479"/>
<text x="176.00" y="606.00" font-size="14.5" text-anchor="middle" font-weight="normal" fill="#151515" >ATP</text>
<text transform="translate(174.50,780.00) scale(0.74,1)" x="0" y="0" font-size="14" text-anchor="middle" fill="#151515" stroke="#222" stroke-width="0.3">Time (hours)</text>
<text transform="translate(40.40,677.00) rotate(-90) scale(0.84,1)" x="0" y="0" font-size="13" text-anchor="middle" fill="#151515" stroke="#222" stroke-width="0.35">% of control</text>
<path d="M323.80,614.50 V739.50 H508.80" fill="none" stroke="#111" stroke-width="1.55" stroke-linecap="square"/>
<line x1="319.30" y1="739.50" x2="323.80" y2="739.50" stroke="#111" stroke-width="1.55"/>
<text transform="translate(314.10,743.50) scale(1.17,1)" x="0" y="0" font-size="11.5" text-anchor="end" fill="#151515" >0</text>
<line x1="319.30" y1="709.50" x2="323.80" y2="709.50" stroke="#111" stroke-width="1.55"/>
<text transform="translate(314.10,713.50) scale(1.17,1)" x="0" y="0" font-size="11.5" text-anchor="end" fill="#151515" >50</text>
<line x1="319.30" y1="679.50" x2="323.80" y2="679.50" stroke="#111" stroke-width="1.55"/>
<text transform="translate(314.10,683.50) scale(1.17,1)" x="0" y="0" font-size="11.5" text-anchor="end" fill="#151515" >100</text>
<line x1="319.30" y1="649.50" x2="323.80" y2="649.50" stroke="#111" stroke-width="1.55"/>
<text transform="translate(314.10,653.50) scale(1.17,1)" x="0" y="0" font-size="11.5" text-anchor="end" fill="#151515" >150</text>
<line x1="319.30" y1="619.50" x2="323.80" y2="619.50" stroke="#111" stroke-width="1.55"/>
<text transform="translate(314.10,623.50) scale(1.17,1)" x="0" y="0" font-size="11.5" text-anchor="end" fill="#151515" >200</text>
<line x1="323.80" y1="739.50" x2="323.80" y2="744.00" stroke="#111" stroke-width="1.55"/>
<text transform="translate(323.80,759.30) scale(1.17,1)" x="0" y="0" font-size="11.5" text-anchor="middle" fill="#151515" >0</text>
<line x1="331.00" y1="739.50" x2="331.00" y2="741.80" stroke="#111" stroke-width="1.2"/>
<line x1="338.20" y1="739.50" x2="338.20" y2="741.80" stroke="#111" stroke-width="1.2"/>
<line x1="345.40" y1="739.50" x2="345.40" y2="741.80" stroke="#111" stroke-width="1.2"/>
<line x1="352.60" y1="739.50" x2="352.60" y2="741.80" stroke="#111" stroke-width="1.2"/>
<line x1="359.80" y1="739.50" x2="359.80" y2="741.80" stroke="#111" stroke-width="1.2"/>
<line x1="367.00" y1="739.50" x2="367.00" y2="741.80" stroke="#111" stroke-width="1.2"/>
<line x1="374.20" y1="739.50" x2="374.20" y2="741.80" stroke="#111" stroke-width="1.2"/>
<line x1="381.40" y1="739.50" x2="381.40" y2="741.80" stroke="#111" stroke-width="1.2"/>
<line x1="388.60" y1="739.50" x2="388.60" y2="741.80" stroke="#111" stroke-width="1.2"/>
<line x1="395.80" y1="739.50" x2="395.80" y2="744.00" stroke="#111" stroke-width="1.55"/>
<text transform="translate(395.80,759.30) scale(1.17,1)" x="0" y="0" font-size="11.5" text-anchor="middle" fill="#151515" >10</text>
<line x1="403.00" y1="739.50" x2="403.00" y2="741.80" stroke="#111" stroke-width="1.2"/>
<line x1="410.20" y1="739.50" x2="410.20" y2="741.80" stroke="#111" stroke-width="1.2"/>
<line x1="417.40" y1="739.50" x2="417.40" y2="741.80" stroke="#111" stroke-width="1.2"/>
<line x1="424.60" y1="739.50" x2="424.60" y2="741.80" stroke="#111" stroke-width="1.2"/>
<line x1="431.80" y1="739.50" x2="431.80" y2="741.80" stroke="#111" stroke-width="1.2"/>
<line x1="439.00" y1="739.50" x2="439.00" y2="741.80" stroke="#111" stroke-width="1.2"/>
<line x1="446.20" y1="739.50" x2="446.20" y2="741.80" stroke="#111" stroke-width="1.2"/>
<line x1="453.40" y1="739.50" x2="453.40" y2="741.80" stroke="#111" stroke-width="1.2"/>
<line x1="460.60" y1="739.50" x2="460.60" y2="741.80" stroke="#111" stroke-width="1.2"/>
<line x1="467.80" y1="739.50" x2="467.80" y2="744.00" stroke="#111" stroke-width="1.55"/>
<text transform="translate(467.80,759.30) scale(1.17,1)" x="0" y="0" font-size="11.5" text-anchor="middle" fill="#151515" >20</text>
<line x1="475.00" y1="739.50" x2="475.00" y2="741.80" stroke="#111" stroke-width="1.2"/>
<line x1="482.20" y1="739.50" x2="482.20" y2="741.80" stroke="#111" stroke-width="1.2"/>
<line x1="489.40" y1="739.50" x2="489.40" y2="741.80" stroke="#111" stroke-width="1.2"/>
<line x1="496.60" y1="739.50" x2="496.60" y2="741.80" stroke="#111" stroke-width="1.2"/>
<line x1="503.80" y1="739.50" x2="503.80" y2="741.80" stroke="#111" stroke-width="1.2"/>
<path d="M323.80,678.48 L327.40,680.70 L331.00,678.90 L338.20,679.80 L352.60,677.10 L367.00,675.00 L381.40,680.70 L496.60,663.90" fill="none" stroke="#f0961b" stroke-width="1.3" stroke-linejoin="round"/>
<path d="M323.80,681.39 L326.44,676.36 L321.16,676.36 Z" fill="#f0961b"/>
<path d="M325.10,676.50 H329.70 M327.40,676.50 V684.90 M325.10,684.90 H329.70" fill="none" stroke="#f0961b" stroke-width="1.3"/>
<path d="M327.40,683.61 L330.05,678.58 L324.76,678.58 Z" fill="#f0961b"/>
<path d="M331.00,681.81 L333.64,676.78 L328.36,676.78 Z" fill="#f0961b"/>
<path d="M335.90,674.04 H340.50 M338.20,674.04 V685.56 M335.90,685.56 H340.50" fill="none" stroke="#f0961b" stroke-width="1.3"/>
<path d="M338.20,682.71 L340.84,677.68 L335.56,677.68 Z" fill="#f0961b"/>
<path d="M350.30,672.30 H354.90 M352.60,672.30 V681.90 M350.30,681.90 H354.90" fill="none" stroke="#f0961b" stroke-width="1.3"/>
<path d="M352.60,680.01 L355.25,674.98 L349.96,674.98 Z" fill="#f0961b"/>
<path d="M367.00,677.91 L369.64,672.88 L364.36,672.88 Z" fill="#f0961b"/>
<path d="M379.10,672.30 H383.70 M381.40,672.30 V689.10 M379.10,689.10 H383.70" fill="none" stroke="#f0961b" stroke-width="1.3"/>
<path d="M381.40,683.61 L384.05,678.58 L378.76,678.58 Z" fill="#f0961b"/>
<path d="M494.30,645.00 H498.90 M496.60,645.00 V682.80 M494.30,682.80 H498.90" fill="none" stroke="#f0961b" stroke-width="1.3"/>
<path d="M496.60,666.81 L499.25,661.78 L493.96,661.78 Z" fill="#f0961b"/>
<text x="418.00" y="606.00" font-size="14.5" text-anchor="middle" font-weight="normal" fill="#151515" >GTP</text>
<text transform="translate(416.00,780.00) scale(0.74,1)" x="0" y="0" font-size="14" text-anchor="middle" fill="#151515" stroke="#222" stroke-width="0.3">Time (hours)</text>
<text x="11.50" y="805.00" font-size="18.5" text-anchor="start" font-weight="bold" fill="#111" >B</text>
<text x="190.00" y="828.70" font-size="14.3" text-anchor="middle" font-weight="normal" fill="#151515" >Jurkat uridine rescue</text>
<path d="M82.6,836.5 V958.2 H297.3" fill="none" stroke="#111" stroke-width="1.4" stroke-linecap="square"/>
<line x1="78.1" y1="958.20" x2="82.6" y2="958.20" stroke="#111" stroke-width="1.4"/>
<text transform="translate(72.90,962.20) scale(1.17,1)" x="0" y="0" font-size="11.5" text-anchor="end" fill="#151515" >0</text>
<line x1="78.1" y1="911.40" x2="82.6" y2="911.40" stroke="#111" stroke-width="1.4"/>
<text transform="translate(72.90,915.40) scale(1.17,1)" x="0" y="0" font-size="11.5" text-anchor="end" fill="#151515" >50</text>
<line x1="78.1" y1="864.60" x2="82.6" y2="864.60" stroke="#111" stroke-width="1.4"/>
<text transform="translate(72.90,868.60) scale(1.17,1)" x="0" y="0" font-size="11.5" text-anchor="end" fill="#151515" >100</text>
<line x1="82.60" y1="958.2" x2="82.60" y2="962.7" stroke="#111" stroke-width="1.4"/>
<text x="82.60" y="978.70" font-size="11.5" text-anchor="middle" font-weight="normal" fill="#151515" >&#8722;8</text>
<line x1="135.20" y1="958.2" x2="135.20" y2="962.7" stroke="#111" stroke-width="1.4"/>
<text x="135.20" y="978.70" font-size="11.5" text-anchor="middle" font-weight="normal" fill="#151515" >&#8722;7</text>
<line x1="187.80" y1="958.2" x2="187.80" y2="962.7" stroke="#111" stroke-width="1.4"/>
<text x="187.80" y="978.70" font-size="11.5" text-anchor="middle" font-weight="normal" fill="#151515" >&#8722;6</text>
<line x1="240.40" y1="958.2" x2="240.40" y2="962.7" stroke="#111" stroke-width="1.4"/>
<text x="240.40" y="978.70" font-size="11.5" text-anchor="middle" font-weight="normal" fill="#151515" >&#8722;5</text>
<line x1="293.00" y1="958.2" x2="293.00" y2="962.7" stroke="#111" stroke-width="1.4"/>
<text x="293.00" y="978.70" font-size="11.5" text-anchor="middle" font-weight="normal" fill="#151515" >&#8722;4</text>
<text transform="translate(190.20,999.40) scale(0.74,1)" x="0" y="0" font-size="14" text-anchor="middle" fill="#151515" stroke="#222" stroke-width="0.3">logM BRQ</text>
<text transform="translate(41.80,896.85) rotate(-90) scale(0.84,1)" x="0" y="0" font-size="13" text-anchor="middle" fill="#151515" stroke="#222" stroke-width="0.35">% Viability</text>
<path d="M92.59,863.20 L94.77,863.20 L96.95,863.20 L99.12,863.20 L101.30,863.20 L103.48,863.20 L105.65,863.21 L107.83,863.21 L110.00,863.21 L112.18,863.21 L114.36,863.21 L116.53,863.21 L118.71,863.22 L120.89,863.22 L123.06,863.22 L125.24,863.22 L127.42,863.23 L129.59,863.23 L131.77,863.23 L133.94,863.24 L136.12,863.24 L138.30,863.25 L140.47,863.26 L142.65,863.26 L144.83,863.27 L147.00,863.28 L149.18,863.29 L151.35,863.30 L153.53,863.32 L155.71,863.33 L157.88,863.35 L160.06,863.37 L162.24,863.39 L164.41,863.41 L166.59,863.43 L168.77,863.46 L170.94,863.49 L173.12,863.53 L175.29,863.57 L177.47,863.62 L179.65,863.67 L181.82,863.72 L184.00,863.78 L186.18,863.86 L188.35,863.93 L190.53,864.02 L192.70,864.12 L194.88,864.23 L197.06,864.35 L199.23,864.49 L201.41,864.65 L203.59,864.82 L205.76,865.01 L207.94,865.22 L210.12,865.46 L212.29,865.73 L214.47,866.03 L216.64,866.36 L218.82,866.72 L221.00,867.13 L223.17,867.58 L225.35,868.08 L227.53,868.64 L229.70,869.25 L231.88,869.93 L234.06,870.68 L236.23,871.51 L238.41,872.41 L240.58,873.40 L242.76,874.49 L244.94,875.67 L247.11,876.95 L249.29,878.35 L251.47,879.86 L253.64,881.48 L255.82,883.22 L257.99,885.08 L260.17,887.05 L262.35,889.14 L264.52,891.34 L266.70,893.65" fill="none" stroke="#e61b84" stroke-width="1.35"/>
<path d="M92.59,857.76 L94.77,857.87 L96.95,857.99 L99.12,858.13 L101.30,858.30 L103.48,858.49 L105.65,858.71 L107.83,858.97 L110.00,859.26 L112.18,859.61 L114.36,860.00 L116.53,860.46 L118.71,860.98 L120.89,861.58 L123.06,862.26 L125.24,863.05 L127.42,863.94 L129.59,864.94 L131.77,866.08 L133.94,867.36 L136.12,868.78 L138.30,870.37 L140.47,872.12 L142.65,874.04 L144.83,876.13 L147.00,878.38 L149.18,880.79 L151.35,883.34 L153.53,886.01 L155.71,888.78 L157.88,891.62 L160.06,894.51 L162.24,897.39 L164.41,900.25 L166.59,903.05 L168.77,905.76 L170.94,908.36 L173.12,910.82 L175.29,913.13 L177.47,915.27 L179.65,917.25 L181.82,919.06 L184.00,920.71 L186.18,922.19 L188.35,923.52 L190.53,924.71 L192.70,925.76 L194.88,926.69 L197.06,927.51 L199.23,928.23 L201.41,928.86 L203.59,929.41 L205.76,929.88 L207.94,930.30 L210.12,930.66 L212.29,930.97 L214.47,931.24 L216.64,931.48 L218.82,931.68 L221.00,931.85 L223.17,932.00 L225.35,932.13 L227.53,932.24 L229.70,932.34 L231.88,932.42 L234.06,932.49 L236.23,932.55 L238.41,932.61 L240.58,932.65 L242.76,932.69 L244.94,932.72 L247.11,932.75 L249.29,932.78 L251.47,932.80 L253.64,932.82 L255.82,932.83 L257.99,932.85 L260.17,932.86 L262.35,932.87 L264.52,932.88 L266.70,932.88" fill="none" stroke="#4b1a5a" stroke-width="1.6"/>
<path d="M90.88,864.69 H95.88 M93.38,864.69 V890.15 M90.88,890.15 H95.88" fill="none" stroke="#e61b84" stroke-width="1.3"/>
<path d="M106.66,866.66 H111.66 M109.16,866.66 V872.28 M106.66,872.28 H111.66" fill="none" stroke="#e61b84" stroke-width="1.3"/>
<path d="M122.44,846.35 H127.44 M124.94,846.35 V866.94 M122.44,866.94 H127.44" fill="none" stroke="#6a3a6e" stroke-width="1.3"/>
<path d="M154.00,853.56 H159.00 M156.50,853.56 V861.04 M154.00,861.04 H159.00" fill="none" stroke="#e61b84" stroke-width="1.3"/>
<path d="M185.56,849.62 H190.56 M188.06,849.62 V858.98 M185.56,858.98 H190.56" fill="none" stroke="#e61b84" stroke-width="1.3"/>
<path d="M217.12,867.69 H222.12 M219.62,867.69 V880.79 M217.12,880.79 H222.12" fill="none" stroke="#e61b84" stroke-width="1.3"/>
<path d="M264.46,890.06 H269.46 M266.96,890.06 V898.48 M264.46,898.48 H269.46" fill="none" stroke="#e61b84" stroke-width="1.3"/>
<rect x="90.63" y="874.67" width="5.50" height="5.50" fill="#e61b84"/>
<rect x="106.41" y="866.72" width="5.50" height="5.50" fill="#e61b84"/>
<rect x="137.97" y="862.79" width="5.50" height="5.50" fill="#e61b84"/>
<rect x="153.75" y="854.55" width="5.50" height="5.50" fill="#e61b84"/>
<rect x="169.53" y="861.48" width="5.50" height="5.50" fill="#e61b84"/>
<rect x="185.31" y="851.55" width="5.50" height="5.50" fill="#e61b84"/>
<rect x="201.09" y="855.77" width="5.50" height="5.50" fill="#e61b84"/>
<rect x="216.87" y="871.49" width="5.50" height="5.50" fill="#e61b84"/>
<rect x="232.65" y="867.93" width="5.50" height="5.50" fill="#e61b84"/>
<rect x="248.43" y="878.70" width="5.50" height="5.50" fill="#e61b84"/>
<rect x="264.21" y="891.52" width="5.50" height="5.50" fill="#e61b84"/>
<circle cx="93.38" cy="869.47" r="2.9" fill="#4b1a5a"/>
<circle cx="109.16" cy="851.96" r="2.9" fill="#4b1a5a"/>
<rect x="122.19" y="853.89" width="5.50" height="5.50" fill="#52205e"/>
<circle cx="140.72" cy="871.81" r="2.9" fill="#4b1a5a"/>
<rect x="153.75" y="895.55" width="5.50" height="5.50" fill="#52205e"/>
<circle cx="172.28" cy="907.00" r="2.9" fill="#4b1a5a"/>
<circle cx="188.06" cy="923.85" r="2.9" fill="#4b1a5a"/>
<circle cx="203.84" cy="928.25" r="2.9" fill="#4b1a5a"/>
<circle cx="219.62" cy="931.71" r="2.9" fill="#4b1a5a"/>
<circle cx="235.40" cy="932.93" r="2.9" fill="#4b1a5a"/>
<circle cx="251.18" cy="933.12" r="2.9" fill="#4b1a5a"/>
<circle cx="266.96" cy="934.05" r="2.9" fill="#4b1a5a"/>
<line x1="348" y1="876.8" x2="364" y2="876.8" stroke="#e61b84" stroke-width="1.6"/>
<rect x="353.20" y="874.00" width="5.60" height="5.60" fill="#e61b84"/>
<line x1="348" y1="890.6" x2="364" y2="890.6" stroke="#4b1a5a" stroke-width="1.6"/>
<circle cx="356.00" cy="890.60" r="2.9" fill="#4b1a5a"/>
<text x="368.50" y="880.80" font-size="11.6" text-anchor="start" font-weight="normal" fill="#151515" >100 uM uridine</text>
<text x="368.50" y="894.60" font-size="11.6" text-anchor="start" font-weight="normal" fill="#151515" >No uridine</text>
<rect x="0.5" y="0.5" width="519" height="1013" fill="none" stroke="#222" stroke-width="1"/>
<rect x="0" y="1012.6" width="520" height="1.4" fill="#222"/>
</svg>
</body></html>
